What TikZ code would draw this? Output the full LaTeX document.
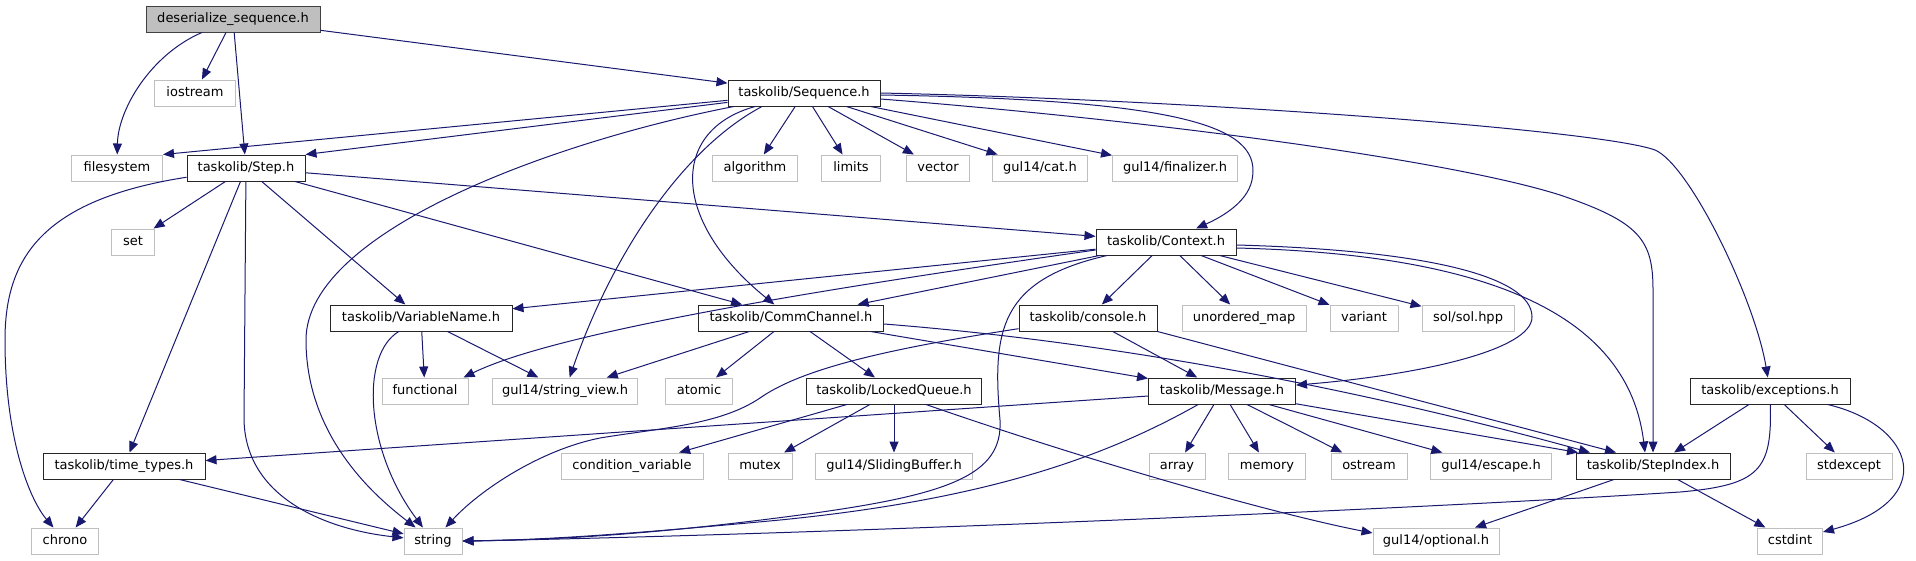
\documentclass[tikz,border=0pt]{standalone}
\usepackage{fontspec}
\setmainfont{DejaVu Sans}
\usetikzlibrary{arrows.meta}
\definecolor{edgeblue}{HTML}{191970}
\definecolor{boxgray}{HTML}{BFBFBF}
\tikzset{
  filebox/.style={draw=black!85, line width=1pt, fill=white, minimum height=26, inner sep=0pt,
    text height=9.5pt, text depth=3pt, font=\fontsize{13}{15}\selectfont},
  sysbox/.style={filebox, draw=boxgray},
  rootbox/.style={filebox, fill=boxgray, draw=black!75},
  inc/.style={draw=edgeblue, line width=1pt, -{Triangle[length=11pt,width=9pt]}}
}
\begin{document}
\begin{tikzpicture}[x=1pt,y=-1pt]
\path[use as bounding box, fill=white] (0,0) rectangle (1916,560);
% row 0
\node[rootbox, minimum width=174] (root) at (233,19) {deserialize\_sequence.h};
% row 1
\node[sysbox, minimum width=81] (iostream) at (195,93) {iostream};
\node[filebox, minimum width=152] (Sequence) at (804,93) {taskolib/Sequence.h};
% row 2
\node[sysbox, minimum width=91] (filesystem) at (117,168) {filesystem};
\node[filebox, minimum width=118] (Step) at (246,168) {taskolib/Step.h};
\node[sysbox, minimum width=85] (algorithm) at (755,168) {algorithm};
\node[sysbox, minimum width=59] (limits) at (851,168) {limits};
\node[sysbox, minimum width=63] (vector) at (938,168) {vector};
\node[sysbox, minimum width=95] (cat) at (1040,168) {gul14/cat.h};
\node[sysbox, minimum width=125] (finalizer) at (1175,168) {gul14/finalizer.h};
% row 3
\node[sysbox, minimum width=43] (set) at (133,242) {set};
\node[filebox, minimum width=140] (Context) at (1166,242) {taskolib/Context.h};
% row 4
\node[filebox, minimum width=182] (VariableName) at (421,318) {taskolib/VariableName.h};
\node[filebox, minimum width=185] (CommChannel) at (791,318) {taskolib/CommChannel.h};
\node[filebox, minimum width=138] (console) at (1088,318) {taskolib/console.h};
\node[sysbox, minimum width=124] (unorderedmap) at (1244,318) {unordered\_map};
\node[sysbox, minimum width=68] (variant) at (1364,318) {variant};
\node[sysbox, minimum width=92] (sol) at (1468,318) {sol/sol.hpp};
% row 5
\node[sysbox, minimum width=86] (functional) at (425,391) {functional};
\node[sysbox, minimum width=145] (stringview) at (565,391) {gul14/string\_view.h};
\node[sysbox, minimum width=67] (atomic) at (699,391) {atomic};
\node[filebox, minimum width=175] (LockedQueue) at (894,391) {taskolib/LockedQueue.h};
\node[filebox, minimum width=147] (Message) at (1222,391) {taskolib/Message.h};
\node[filebox, minimum width=160] (exceptions) at (1770,391) {taskolib/exceptions.h};
% row 6
\node[filebox, minimum width=162] (timetypes) at (124,466) {taskolib/time\_types.h};
\node[sysbox, minimum width=142] (condvar) at (632,466) {condition\_variable};
\node[sysbox, minimum width=64] (mutex) at (760,466) {mutex};
\node[sysbox, minimum width=157] (slidingbuf) at (894,466) {gul14/SlidingBuffer.h};
\node[sysbox, minimum width=56] (array) at (1177,466) {array};
\node[sysbox, minimum width=77] (memory) at (1267,466) {memory};
\node[sysbox, minimum width=76] (ostream) at (1369,466) {ostream};
\node[sysbox, minimum width=121] (escape) at (1491,466) {gul14/escape.h};
\node[filebox, minimum width=154] (StepIndex) at (1653,466) {taskolib/StepIndex.h};
\node[sysbox, minimum width=86] (stdexcept) at (1849,466) {stdexcept};
% row 7
\node[sysbox, minimum width=67] (chrono) at (65,541) {chrono};
\node[sysbox, minimum width=58] (string) at (433,541) {string};
\node[sysbox, minimum width=126] (optional) at (1436,541) {gul14/optional.h};
\node[sysbox, minimum width=65] (cstdint) at (1790,541) {cstdint};

% deserialize_sequence.h
\draw[inc] (root) .. controls (150,55) and (118,110) .. (filesystem);
\draw[inc] (root) -- (iostream);
\draw[inc] (root) -- (Step);
\draw[inc] (root) -- (Sequence);
% Sequence.h
\draw[inc] (Sequence) -- (filesystem.north east);
\draw[inc] (Sequence) -- (Step.north east);
\draw[inc] (Sequence) .. controls (560,140) and (306,230) .. (306,340) .. controls (306,440) and (380,500) .. (string);
\draw[inc] ([xshift=-42pt]Sequence.south) .. controls (680,150) and (610,260) .. (stringview);
\draw[inc] (Sequence) .. controls (670,130) and (670,220) .. (CommChannel);
\draw[inc] (Sequence) -- (algorithm);
\draw[inc] (Sequence) -- (limits);
\draw[inc] (Sequence) -- (vector);
\draw[inc] (Sequence) -- (cat);
\draw[inc] (Sequence) -- (finalizer);
\draw[inc] ([yshift=-2pt]Sequence.east) .. controls (1200,100) and (1262,130) .. (1252,180) .. controls (1247,205) and (1215,220) .. (Context);
\draw[inc] ([yshift=-6pt]Sequence.east) .. controls (1150,120) and (1450,160) .. (1560,195) .. controls (1640,222) and (1653,240) .. (1653,290) -- (StepIndex);
\draw[inc] (Sequence.east) .. controls (1200,100) and (1600,130) .. (1655,150) .. controls (1690,165) and (1755,300) .. (exceptions);
% Step.h
\draw[inc] (Step) .. controls (40,200) and (5,260) .. (5,340) .. controls (5,440) and (30,500) .. (chrono);
\draw[inc] (Step) -- (set);
\draw[inc] (Step) -- (timetypes);
\draw[inc] (Step) -- (244,420) .. controls (246,500) and (330,530) .. (string);
\draw[inc] (Step) -- (VariableName);
\draw[inc] (Step) -- (CommChannel);
\draw[inc] (Step) -- (Context);
% Context.h
\draw[inc] (Context) -- (VariableName);
\draw[inc] ([yshift=-8pt]Context.west) .. controls (850,285) and (560,330) .. ([xshift=-5pt]functional.north east);
\draw[inc] (Context) -- (CommChannel);
\draw[inc] (Context) .. controls (1000,280) and (992,330) .. (1000,420) .. controls (1003,475) and (950,495) .. (800,515) .. controls (650,535) and (550,540) .. (string.east);
\draw[inc] (Context) -- (console);
\draw[inc] (Context) -- (unorderedmap);
\draw[inc] (Context) -- (variant);
\draw[inc] (Context) -- (sol);
\draw[inc] ([yshift=-3pt]Context.east) .. controls (1420,250) and (1532,275) .. (1532,317) .. controls (1532,350) and (1420,375) .. (Message);
\draw[inc] ([yshift=-6pt]Context.east) .. controls (1520,255) and (1630,330) .. ([xshift=-8pt]StepIndex.north);
% VariableName.h
\draw[inc] (VariableName) .. controls (360,355) and (365,450) .. (string);
\draw[inc] (VariableName) -- (functional);
\draw[inc] (VariableName) -- (stringview);
% CommChannel.h
\draw[inc] (CommChannel) -- (stringview);
\draw[inc] (CommChannel) -- (atomic);
\draw[inc] (CommChannel) -- (LockedQueue);
\draw[inc] (CommChannel) -- (Message);
\draw[inc] ([yshift=-6pt]CommChannel.east) .. controls (1150,345) and (1400,400) .. ([xshift=-63pt]StepIndex.north);
% console.h
\draw[inc] (console) .. controls (880,350) and (800,370) .. (760,398) .. controls (720,425) and (660,428) .. (600,438) .. controls (540,450) and (480,490) .. (string);
\draw[inc] (console) -- (Message);
\draw[inc] (console.south east) -- ([xshift=-37pt]StepIndex.north);
% LockedQueue.h
\draw[inc] (LockedQueue) -- (condvar);
\draw[inc] (LockedQueue) -- (mutex);
\draw[inc] (LockedQueue) -- (slidingbuf);
\draw[inc] ([xshift=32pt]LockedQueue.south) .. controls (1100,465) and (1280,515) .. ([yshift=8pt]optional.west);
% Message.h
\draw[inc] (Message) -- (timetypes);
\draw[inc] (Message) .. controls (1100,460) and (980,500) .. (780,520) .. controls (620,535) and (540,540) .. (string.east);
\draw[inc] (Message) -- (array);
\draw[inc] (Message) -- (memory);
\draw[inc] ([xshift=25pt]Message.south) -- (ostream);
\draw[inc] ([xshift=47pt]Message.south) -- (escape);
\draw[inc] (Message) -- ([xshift=-75pt]StepIndex.north);
% exceptions.h
\draw[inc] (exceptions) .. controls (1772,470) and (1760,485) .. (1680,492) .. controls (1400,510) and (800,535) .. (string.east);
\draw[inc] (exceptions) -- (StepIndex);
\draw[inc] (exceptions) -- (stdexcept);
\draw[inc] (exceptions) .. controls (1915,425) and (1940,500) .. (cstdint);
% StepIndex.h
\draw[inc] (StepIndex) -- (optional);
\draw[inc] (StepIndex) -- (cstdint);
% time_types.h
\draw[inc] (timetypes) -- (chrono);
\draw[inc] (timetypes) -- (string);
\end{tikzpicture}
\end{document}
